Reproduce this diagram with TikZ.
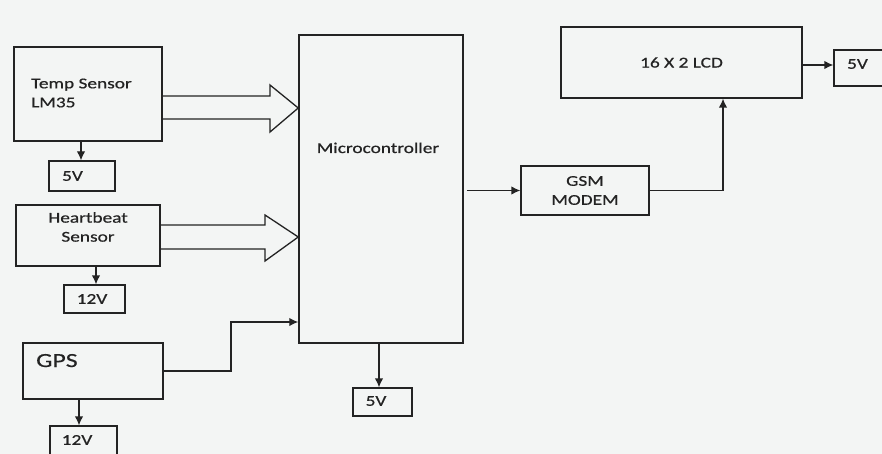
\documentclass[tikz,border=0pt]{standalone}
\usepackage{fontspec}
\setmainfont{Carlito}[FakeStretch=1.29,FakeBold=0.6]
\usetikzlibrary{arrows.meta,calc}
\definecolor{bg}{RGB}{243,245,244}
\definecolor{ink}{RGB}{35,35,35}
\begin{document}
\begin{tikzpicture}[x=1pt,y=-1pt,
  box/.style={draw=ink, line width=1.3pt, inner sep=0pt, text=ink,
    font=\fontsize{15}{19}\selectfont},
  txt/.style={inner sep=0pt, text=ink, font=\fontsize{15}{19}\selectfont},
  bigtxt/.style={inner sep=0pt, text=ink, font=\fontsize{20}{24}\selectfont},
  arr/.style={draw=ink, line width=1.3pt, -{Latex[length=9pt,width=8.5pt]}},
  blk/.style={draw=ink, line width=1.3pt, line join=miter}]
\fill[bg] (0,0) rectangle (882,454);
\useasboundingbox (0,0) rectangle (882,454);
\begin{scope}
\clip (0,0) rectangle (882,454);
% boxes
\node[box, minimum width=148pt, minimum height=94pt] (temp) at (88,94) {};
\node[txt, align=left, anchor=west] (tempt) at (31,93) {Temp Sensor\\LM35};
\node[box, minimum width=66pt, minimum height=30pt] (t5) at (82,176) {};
\node[txt] (t5t) at ([xshift=-9.5pt]t5.center) {5V};

\node[box, minimum width=144pt, minimum height=61pt] (heart) at (88,235.5) {};
\node[txt, align=center] (heartt) at (88,227) {Heartbeat\\Sensor};
\node[box, minimum width=61pt, minimum height=28pt] (h12) at (94.5,299) {};
\node[txt] (h12t) at ([xshift=-2.5pt]h12.center) {12V};

\node[box, minimum width=140pt, minimum height=56pt] (gps) at (93,371) {};
\node[bigtxt, anchor=base west] (gpst) at (36,367) {GPS};
\node[box, minimum width=67pt, minimum height=34pt] (g12) at (83.5,443) {};
\node[txt] (g12t) at (77,440) {12V};

\node[box, line width=1.5pt, minimum width=164pt, minimum height=308pt] (micro) at (381,189) {};
\node[txt, anchor=base] (microt) at (378,153) {Microcontroller};
\node[box, minimum width=59pt, minimum height=28pt] (m5) at (382.5,402) {};
\node[txt] (m5t) at (376,401) {5V};

\node[box, minimum width=128pt, minimum height=49pt, align=center] (gsm) at (585,190.5) {GSM\\MODEM};
\node[box, minimum width=241pt, minimum height=71pt] (lcd) at (681.5,62.5) {16 X 2 LCD};
\node[box, minimum width=52pt, minimum height=36pt] (l5) at (860,68) {};
\node[txt] (l5t) at (857.5,64) {5V};

% thin arrows
\draw[arr] ([xshift=-7pt]temp.south) -- ([xshift=-7pt]temp.south |- t5.north);
\draw[arr] ([xshift=8pt]heart.south) -- ([xshift=8pt]heart.south |- h12.north);
\draw[arr] ([xshift=-14pt]gps.south) -- ([xshift=-14pt]gps.south |- g12.north);
\draw[arr] ([xshift=-2pt]micro.south) -- ([xshift=-2pt]micro.south |- m5.north);
\draw[arr] ($(micro.east |- gsm.west)+(3,0)$) -- (gsm.west);
\draw[arr] (gsm.east) -| ($(lcd.south)+(41.5,0)$);
\draw[arr] ([yshift=-2.5pt]lcd.east) -- ([yshift=-2.5pt]lcd.east -| l5.west);
\coordinate (gm) at (231,322);
\draw[arr] (gps.east) -| (gm) -- (micro.west |- gm);

% block arrows
\draw[blk] (temp.east |- 0,96) -- (270,96) -- (270,85) -- (micro.west |- 0,108)
  -- (270,132) -- (270,119) -- (temp.east |- 0,119);
\draw[blk] (heart.east |- 0,225) -- (265,225) -- (265,215) -- (micro.west |- 0,237)
  -- (265,261) -- (265,249) -- (heart.east |- 0,249);
\end{scope}
\end{tikzpicture}
\end{document}
